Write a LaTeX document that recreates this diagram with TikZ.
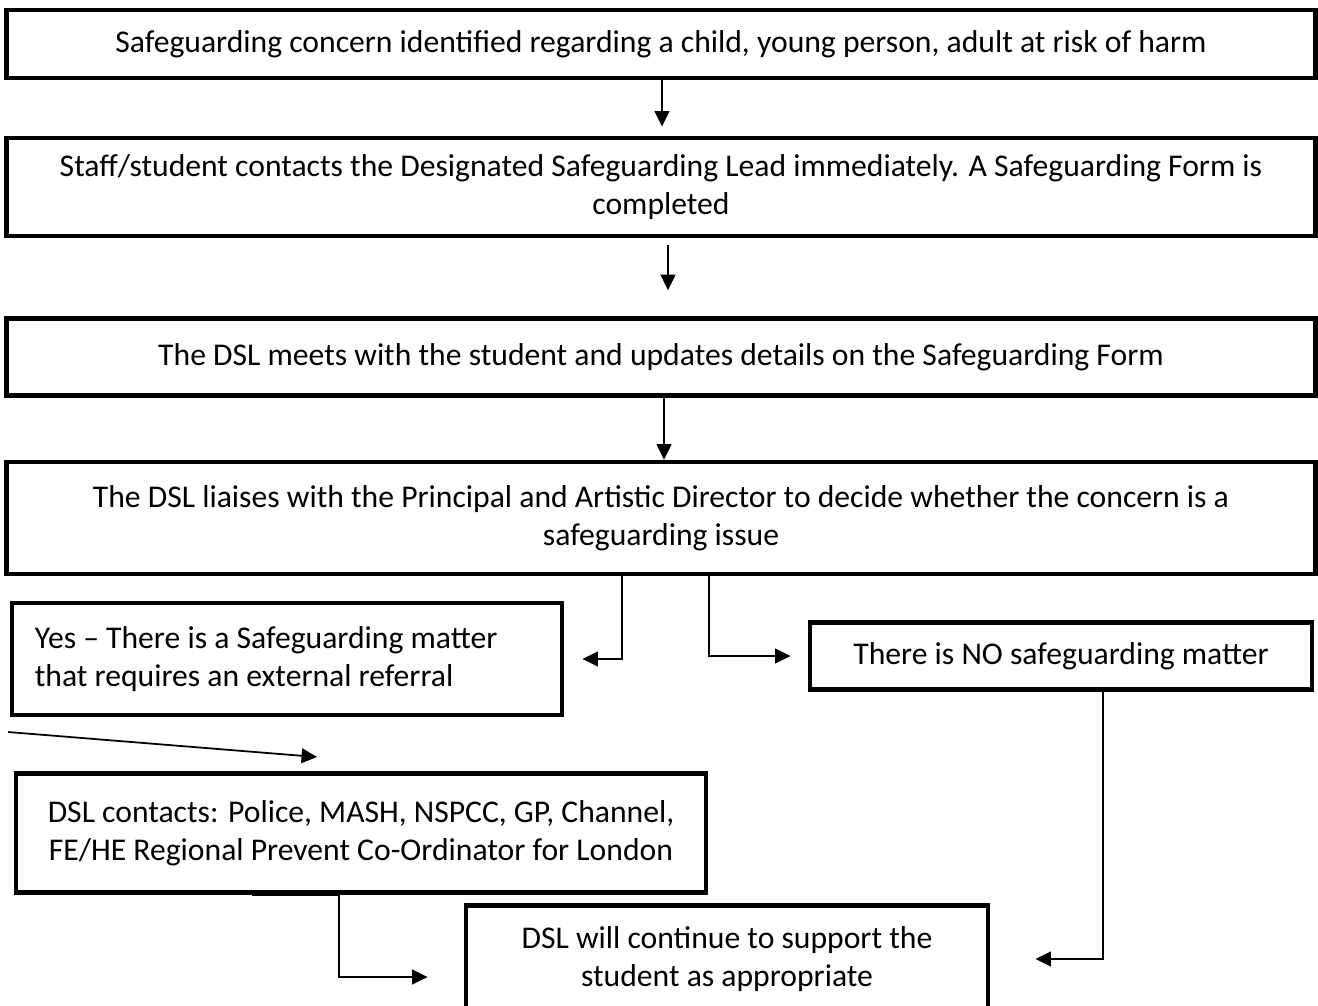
\documentclass[tikz,border=0pt]{standalone}
\usepackage{fontspec}
\setmainfont{Carlito}
\usepackage{tikz}
\usetikzlibrary{
  arrows.meta,
  positioning,
}
\tikzstyle{box} = [
  draw,
  rectangle,
  line width=1.3pt,
  align=center,
  inner sep=0pt,
  font=\fontsize{9}{10.95}\selectfont,
]
\tikzstyle{arrow} = [
  -{Triangle[length=4.4pt,width=4.2pt]},
  line width=0.5pt,
]

\begin{document}
\begin{tikzpicture}[x=0.01cm,y=-0.01cm]
        \clip (0,0) rectangle (1318,1005);
        \fill[white] (0,0) rectangle (1318,1005);

        \node[box,minimum width=13.08cm,minimum height=0.68cm] (concern) at (661,44) {Safeguarding concern identified regarding a child, young person, adult at risk of harm};
        \node[box,minimum width=13.08cm,minimum height=0.98cm] (contact) at (661,187) {Staff/student contacts the Designated Safeguarding Lead immediately. A Safeguarding Form is\\completed};
        \node[box,minimum width=13.08cm,minimum height=0.77cm] (meets) at (661,357) {The DSL meets with the student and updates details on the Safeguarding Form};
        \node[box,minimum width=13.08cm,minimum height=1.12cm] (liaise) at (661,518) {The DSL liaises with the Principal and Artistic Director to decide whether the concern is a\\safeguarding issue};

        \node[box,minimum width=5.5cm,minimum height=1.12cm,text width=5.04cm,align=flush left] (yes) at (287,659) {Yes -- There is a Safeguarding matter\\that requires an external referral};
        \node[box,minimum width=5.02cm,minimum height=0.67cm] (no) at (1061,656) {There is NO safeguarding matter};
        \node[box,minimum width=6.9cm,minimum height=1.19cm] (refer) at (361,833) {DSL contacts: Police, MASH, NSPCC, GP, Channel,\\FE/HE Regional Prevent Co-Ordinator for London};
        \node[box,minimum width=5.22cm,minimum height=1.07cm] (support) at (727,959) {DSL will continue to support the\\student as appropriate};

        \coordinate (s1) at (8,732);
        \coordinate (s2) at (317,757);

        \draw[arrow,shorten >=2.6pt] ([xshift=0.01cm]concern.south) -- ([xshift=0.01cm]contact.north);
        \draw[arrow,shorten <=2pt,shorten >=7.4pt] ([xshift=0.07cm]contact.south) -- ([xshift=0.07cm]meets.north);
        \draw[arrow] ([xshift=0.03cm]meets.south) -- ([xshift=0.03cm]liaise.north);
        \draw[arrow] ([xshift=-0.39cm]liaise.south) |- ([xshift=0.18cm]yes.east);
        \draw[arrow] ([xshift=0.48cm]liaise.south) |- ([xshift=-0.17cm]no.west);
        \draw[arrow] (s1) -- (s2);
        \draw[arrow] ([xshift=0.42cm]no.south) |- ([xshift=0.45cm]support.east);
        \draw[arrow] ([xshift=-1.09cm]refer.south) -- ++(87,0) |- ([xshift=-0.36cm,yshift=-0.18cm]support.west);
    \end{tikzpicture}
\end{document}
